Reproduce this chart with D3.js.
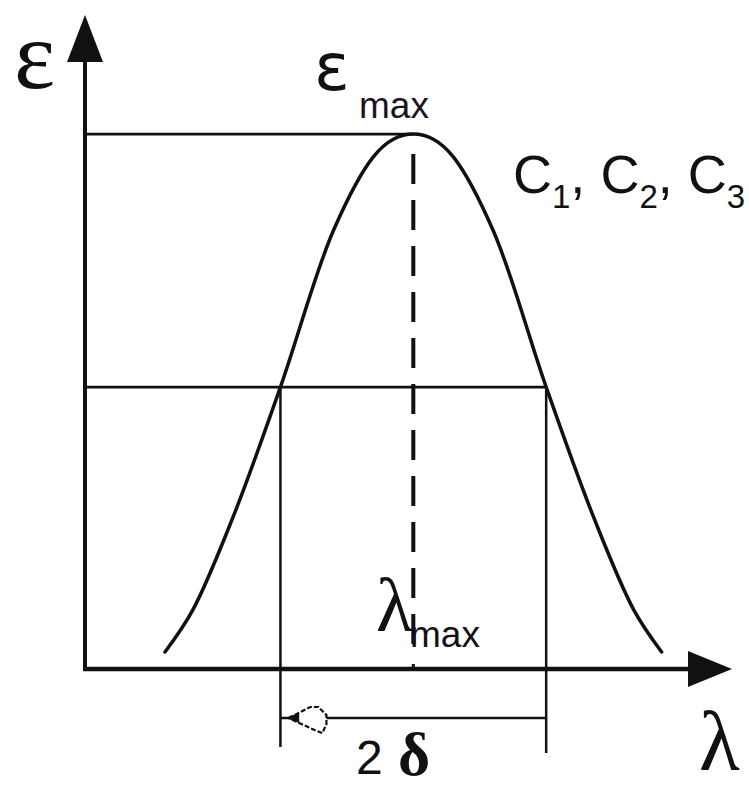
<!DOCTYPE html>
<html>
<head>
<meta charset="utf-8">
<script src="https://cdn.jsdelivr.net/npm/d3@7"></script>
<style>
  html, body { margin: 0; padding: 0; background: #fff; }
  svg { display: block; }
  .serif { font-family: "Liberation Serif", "DejaVu Serif", serif; }
  .sans { font-family: "Liberation Sans", Arial, sans-serif; }
  .dsans { font-family: "DejaVu Sans", sans-serif; }
</style>
</head>
<body>
<svg id="chart" width="749" height="791"></svg>
<script>
// Absorption band: wavelength (λ) vs. molar absorptivity (ε), arbitrary units
const lambda  = [12.4, 16.7, 22.9, 30.3, 38.5, 44.7, 47.8, 50.9, 54.0, 57.1, 63.3, 71.5, 78.9, 85.1, 89.4];
const epsilon = [2.6, 9.0, 23.1, 43.1, 67.0, 78.3, 81.0, 81.8, 81.0, 78.3, 67.0, 43.1, 23.1, 9.0, 2.6];

const lambdaMax = 50.9;
const epsMax = 81.8;
const halfLevel = 43.1;          // level at which the band width is measured
const halfLeft = 30.3, halfRight = 71.5;

const svg = d3.select("#chart");
const ink = "#111";

const x = d3.scaleLinear().domain([0, 100]).range([85, 730]);
const y = d3.scaleLinear().domain([0, 100]).range([669, 15]);

// axes with arrowheads
svg.append("line")
  .attr("x1", x(0)).attr("y1", y(0) + 2)
  .attr("x2", x(0)).attr("y2", y(100) + 40)
  .attr("stroke", ink).attr("stroke-width", 4);
svg.append("path")
  .attr("d", `M${x(0)},${y(100)} L${x(0) - 18},${y(100) + 47} L${x(0) + 18},${y(100) + 47} Z`)
  .attr("fill", ink);

svg.append("line")
  .attr("x1", x(0) - 2).attr("y1", y(0))
  .attr("x2", x(100) - 40).attr("y2", y(0))
  .attr("stroke", ink).attr("stroke-width", 4.5);
svg.append("path")
  .attr("d", `M${x(100) + 2},${y(0)} L${x(100) - 42},${y(0) - 18} L${x(100) - 42},${y(0) + 18} Z`)
  .attr("fill", ink);

// small tick at λmax on the wavelength axis
svg.append("line")
  .attr("x1", x(lambdaMax)).attr("y1", y(0))
  .attr("x2", x(lambdaMax)).attr("y2", y(0) - 5)
  .attr("stroke", ink).attr("stroke-width", 3);

// reference lines
svg.append("line")
  .attr("x1", x(0)).attr("y1", y(epsMax))
  .attr("x2", x(lambdaMax)).attr("y2", y(epsMax))
  .attr("stroke", ink).attr("stroke-width", 2.8);
svg.append("line")
  .attr("x1", x(0)).attr("y1", y(halfLevel))
  .attr("x2", x(halfRight)).attr("y2", y(halfLevel))
  .attr("stroke", ink).attr("stroke-width", 2.8);

// λmax dashed marker
svg.append("line")
  .attr("x1", x(lambdaMax)).attr("y1", y(epsMax) + 20)
  .attr("x2", x(lambdaMax)).attr("y2", y(0) - 22)
  .attr("stroke", ink).attr("stroke-width", 4)
  .attr("stroke-dasharray", "30,16");

// band-width verticals
[halfLeft, halfRight].forEach((v, i) => {
  svg.append("line")
    .attr("x1", x(v)).attr("y1", y(halfLevel))
    .attr("x2", x(v)).attr("y2", i === 0 ? 747 : 753)
    .attr("stroke", ink).attr("stroke-width", 2.5);
});

// 2δ dimension line with an outlined arrowhead
const dimY = 718;
svg.append("line")
  .attr("x1", x(halfLeft)).attr("y1", dimY)
  .attr("x2", x(halfRight)).attr("y2", dimY)
  .attr("stroke", ink).attr("stroke-width", 2.5);
const ax = x(halfLeft) + 8;
svg.append("path")
  .attr("d", `M${ax},${dimY} L${ax + 22},${dimY - 11} L${ax + 30},${dimY - 11} L${ax + 38},${dimY - 3} L${ax + 38},${dimY + 6} L${ax + 34},${dimY + 15} L${ax + 26},${dimY + 12} Z`)
  .attr("fill", "#fff").attr("stroke", ink).attr("stroke-width", 2.2)
  .attr("stroke-dasharray", "5,2");
svg.append("path")
  .attr("d", `M${ax},${dimY} L${ax + 10},${dimY - 4} L${ax + 10},${dimY + 4} Z`)
  .attr("fill", ink).attr("stroke", ink).attr("stroke-width", 1.5);

// absorption band
const line = d3.line()
  .x((d, i) => x(lambda[i]))
  .y(d => y(d))
  .curve(d3.curveCatmullRom.alpha(0.5));
svg.append("path")
  .datum(epsilon)
  .attr("d", line)
  .attr("fill", "none")
  .attr("stroke", ink)
  .attr("stroke-width", 3.5)
  .attr("stroke-linecap", "round");

// labels
svg.append("text").attr("class", "serif")
  .attr("x", 14).attr("y", 88)
  .attr("font-size", 98).attr("fill", ink).text("ε");

svg.append("text").attr("class", "dsans")
  .attr("x", 314).attr("y", 90)
  .attr("font-size", 66).attr("fill", ink).text("ε");
svg.append("text").attr("class", "sans")
  .attr("x", 359).attr("y", 118)
  .attr("font-size", 37).attr("fill", "#1a1420").text("max");

const cl = svg.append("text").attr("class", "sans").attr("x", 513).attr("y", 193).attr("fill", ink);
[["C", "1", ", "], ["C", "2", ", "], ["C", "3", ""]].forEach(([c, s, sep]) => {
  cl.append("tspan").attr("font-size", 54).attr("dy", 0).text(c);
  cl.append("tspan").attr("font-size", 33).attr("dy", 15).text(s);
  cl.append("tspan").attr("font-size", 54).attr("dy", -15).text(sep);
});

svg.append("text").attr("class", "serif")
  .attr("x", 376).attr("y", 631)
  .attr("font-size", 76).attr("fill", ink).text("λ");
svg.append("text").attr("class", "sans")
  .attr("x", 410).attr("y", 647)
  .attr("font-size", 37).attr("fill", ink).text("max");

svg.append("text").attr("class", "sans").attr("x", 356).attr("y", 774)
  .attr("font-size", 48).attr("fill", ink).text("2");
svg.append("text").attr("class", "serif").attr("x", 398).attr("y", 775)
  .attr("font-size", 62).attr("font-weight", "bold").attr("fill", ink).text("δ");

svg.append("text").attr("class", "serif").attr("x", 699).attr("y", 770)
  .attr("font-size", 84).attr("fill", ink).text("λ");
</script>
</body>
</html>
